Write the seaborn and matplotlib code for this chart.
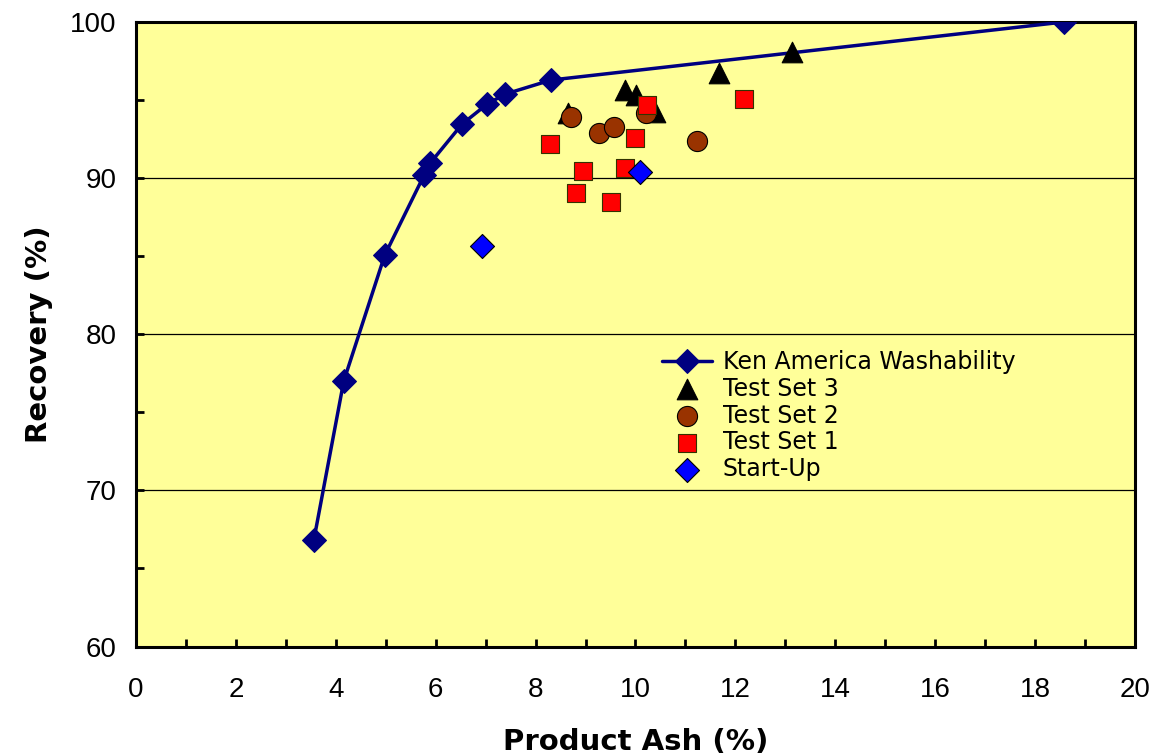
import pandas as pd
import matplotlib
matplotlib.use("Agg")
import matplotlib.pyplot as plt
from matplotlib.ticker import MultipleLocator
import seaborn as sns

# Washability curve
wash_ash = [3.56, 4.16, 4.98, 5.77, 5.89, 6.53, 7.03, 7.39, 8.31, 18.58]
wash_rec = [66.8, 77.0, 85.06, 90.2, 90.96, 93.46, 94.74, 95.38, 96.28, 100.0]

# Test sets
ts3_ash = [9.79, 10.02, 10.39, 8.64, 11.68, 13.13]
ts3_rec = [95.64, 95.32, 94.25, 94.15, 96.75, 98.08]

ts2_ash = [8.71, 9.27, 9.58, 10.21, 11.24]
ts2_rec = [93.93, 92.91, 93.29, 94.15, 92.39]

ts1_ash = [8.29, 10.24, 12.17, 10.00, 8.94, 9.79, 8.80, 9.51]
ts1_rec = [92.18, 94.68, 95.04, 92.60, 90.47, 90.62, 89.06, 88.48]

startup_ash = [10.10, 6.92]
startup_rec = [90.36, 85.66]

wash = pd.DataFrame({'ash': wash_ash, 'rec': wash_rec})
ts3 = pd.DataFrame({'ash': ts3_ash, 'rec': ts3_rec})
ts2 = pd.DataFrame({'ash': ts2_ash, 'rec': ts2_rec})
ts1 = pd.DataFrame({'ash': ts1_ash, 'rec': ts1_rec})
startup = pd.DataFrame({'ash': startup_ash, 'rec': startup_rec})

sns.set_style("white")
plt.rcParams['font.family'] = ['Liberation Sans']
plt.rcParams['text.color'] = 'black'
plt.rcParams['axes.labelcolor'] = 'black'
plt.rcParams['xtick.color'] = 'black'
plt.rcParams['ytick.color'] = 'black'

fig = plt.figure(figsize=(11.69, 7.55), dpi=100)
ax = fig.add_axes([0.1163, 0.1437, 0.8546, 0.8272])
ax.set_facecolor('#FFFF99')

# gridlines
for yv in [70, 80, 90]:
    ax.axhline(yv, color='black', lw=0.9, zorder=1)

sns.lineplot(data=wash, x='ash', y='rec', ax=ax, color='#000080', lw=2.5,
             marker='D', markersize=12, markeredgecolor='#000080',
             sort=False, label='Ken America Washability', zorder=3)
sns.scatterplot(data=ts3, x='ash', y='rec', ax=ax, marker='^', s=220,
                color='black', edgecolor='black', linewidth=0.8,
                label='Test Set 3', zorder=4)
sns.scatterplot(data=ts2, x='ash', y='rec', ax=ax, marker='o', s=210,
                color='#993300', edgecolor='black', linewidth=0.8,
                label='Test Set 2', zorder=5)
sns.scatterplot(data=ts1, x='ash', y='rec', ax=ax, marker='s', s=160,
                color='#FF0000', edgecolor='#333300', linewidth=0.8,
                label='Test Set 1', zorder=6)
sns.scatterplot(data=startup, x='ash', y='rec', ax=ax, marker='D', s=150,
                color='#0000FF', edgecolor='black', linewidth=0.8,
                label='Start-Up', zorder=7)

ax.set_xlim(0, 20)
ax.set_ylim(60, 100)
ax.xaxis.set_major_locator(MultipleLocator(2))
ax.xaxis.set_minor_locator(MultipleLocator(1))
ax.yaxis.set_major_locator(MultipleLocator(10))
ax.yaxis.set_minor_locator(MultipleLocator(5))
ax.tick_params(which='both', direction='in', length=6, width=2,
               color='black', labelsize=20, bottom=True, left=True,
               top=False, right=False)
ax.tick_params(axis='x', which='both', pad=22)
ax.tick_params(axis='y', which='both', pad=14)
for sp in ax.spines.values():
    sp.set_visible(True)
    sp.set_linewidth(2.2)
    sp.set_color('black')

ax.set_xlabel('Product Ash (%)', fontsize=21, fontweight='bold', labelpad=18,
              family='DejaVu Sans')
ax.set_ylabel('Recovery (%)', fontsize=21, fontweight='bold', labelpad=12,
              family='DejaVu Sans')

ax.legend(loc='upper left', bbox_to_anchor=(0.527, 0.475), frameon=False,
          prop={'family': 'DejaVu Sans', 'size': 17},
          handlelength=2.1, handletextpad=0.45, labelspacing=0.12,
          borderaxespad=0, borderpad=0)

fig.savefig('out.png', dpi=100)
